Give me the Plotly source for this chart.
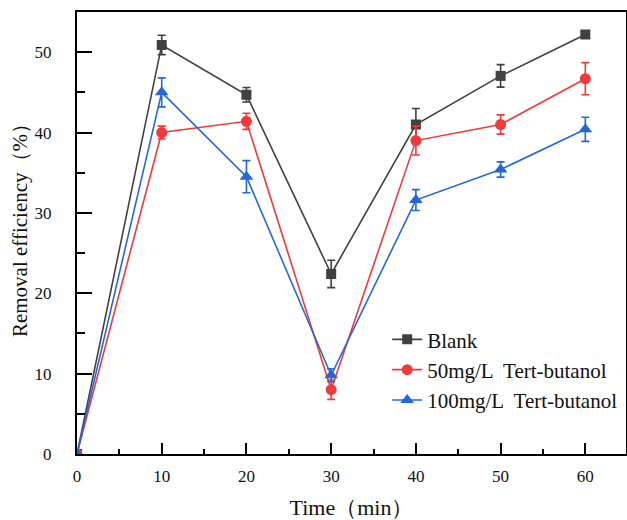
import plotly.graph_objects as go

time = [0, 10, 20, 30, 40, 50, 60]
names = ["Blank", "50mg/L  Tert-butanol", "100mg/L  Tert-butanol"]
blank = [0, 50.9, 44.7, 22.4, 41.0, 47.05, 52.2]
blank_err = [0, 1.2, 0.9, 1.7, 2.0, 1.4, 0.3]
tba50 = [0, 40.0, 41.4, 8.0, 39.0, 41.0, 46.7]
tba50_err = [0, 0.8, 1.0, 1.2, 1.8, 1.2, 2.0]
tba100 = [0, 45.0, 34.5, 9.8, 31.6, 35.4, 40.4]
tba100_err = [0, 1.8, 2.0, 0.8, 1.3, 0.95, 1.5]

colors = ["#404040", "#ee3a3a", "#2468d8"]
symbols = ["square", "circle", "triangle-up"]
sizes = [10, 11, 12]

FONT = "Liberation Serif, Times New Roman, serif"
TXT = "#111"

fig = go.Figure()
for name, ys, es, c, s, sz in zip(names, [blank, tba50, tba100],
                                  [blank_err, tba50_err, tba100_err],
                                  colors, symbols, sizes):
    fig.add_trace(go.Scatter(
        x=time, y=ys, name=name, mode="lines+markers",
        line=dict(color=c, width=1.6),
        marker=dict(symbol=s, size=sz, color=c),
        error_y=dict(type="data", array=es, visible=True, color=c,
                     thickness=1.6, width=4),
    ))

fig.update_layout(
    width=627, height=520,
    paper_bgcolor="white", plot_bgcolor="white",
    margin=dict(l=77, r=1, t=12, b=66),
    font=dict(family=FONT, size=17, color=TXT),
    showlegend=True,
    legend=dict(x=0.565, y=0.305, xanchor="left", yanchor="top",
                bgcolor="rgba(0,0,0,0)", borderwidth=0,
                font=dict(family=FONT, size=21, color=TXT),
                tracegroupgap=0, itemsizing="trace"),
    annotations=[dict(
        text="Removal efficiency（%）", xref="paper", yref="paper",
        x=0, y=0.518, xanchor="center", yanchor="middle", xshift=-57,
        textangle=-90, showarrow=False,
        font=dict(family=FONT, size=21, color=TXT),
    )],
)
fig.update_xaxes(
    range=[0, 64.8], tickvals=[0, 10, 20, 30, 40, 50, 60],
    ticks="inside", ticklen=11, tickwidth=2, tickcolor="black",
    minor=dict(dtick=5, tick0=0, ticks="inside", ticklen=5, tickwidth=2, tickcolor="black"),
    showline=True, linecolor="black", linewidth=2, mirror=True,
    showgrid=False, zeroline=False, automargin=False,
    tickfont=dict(family=FONT, size=17, color=TXT),
    ticklabelstandoff=6,
    title=dict(text="Time（min）", font=dict(family=FONT, size=22, color=TXT), standoff=15),
)
fig.update_yaxes(
    range=[0, 55], tickvals=[0, 10, 20, 30, 40, 50],
    ticks="inside", ticklen=15, tickwidth=2, tickcolor="black",
    minor=dict(dtick=5, tick0=0, ticks="inside", ticklen=8, tickwidth=2, tickcolor="black"),
    showline=True, linecolor="black", linewidth=2, mirror=True,
    showgrid=False, zeroline=False, automargin=False,
    tickfont=dict(family=FONT, size=17, color=TXT),
    ticklabelstandoff=20,
)

fig.write_html(
    "out.html",
    config={"displayModeBar": False},
    post_script="document.body.style.margin='0';document.body.style.overflow='hidden';",
)
